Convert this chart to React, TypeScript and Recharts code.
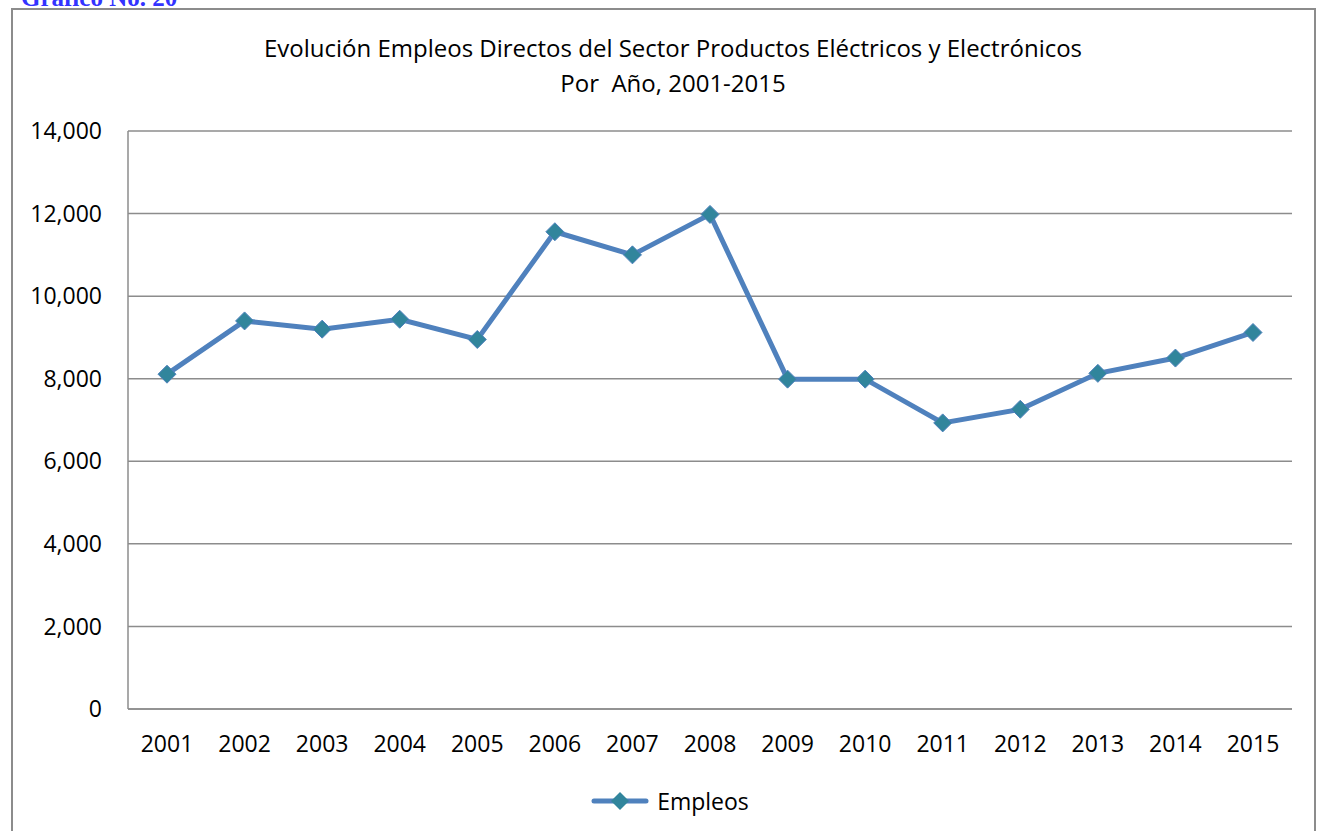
import { LineChart, Line, XAxis, YAxis, CartesianGrid, Legend } from "recharts";

const years = [
  "2001", "2002", "2003", "2004", "2005", "2006", "2007", "2008",
  "2009", "2010", "2011", "2012", "2013", "2014", "2015"
];

const empleos = [
  8110, 9400, 9200, 9440, 8950, 11560, 11000, 11980,
  7990, 7990, 6930, 7260, 8130, 8500, 9120
];

const yTicks = [0, 2000, 4000, 6000, 8000, 10000, 12000, 14000];

const data = years.map((year, i) => ({ year, empleos: empleos[i] }));

const FONT = "'Open Sans', 'Noto Sans', sans-serif";
const LINE = "#4F81BD";
const MARKER = "#31859C";

const Diamond = (props: any) => {
  const { cx, cy } = props;
  if (cx == null || cy == null) return null;
  const r = 9;
  return (
    <path
      d={`M${cx},${cy - r} L${cx + r},${cy} L${cx},${cy + r} L${cx - r},${cy} Z`}
      fill={MARKER}
      stroke={LINE}
      strokeWidth={1}
    />
  );
};

function LegendContent() {
  return (
    <div style={{ display: "flex", alignItems: "center", justifyContent: "center", fontFamily: FONT, fontSize: 23, color: "#000" }}>
      <svg width={58} height={20} style={{ marginRight: 8 }}>
        <line x1={3} y1={10} x2={55} y2={10} stroke={LINE} strokeWidth={5} strokeLinecap="round" />
        <path d="M29,1 L38,10 L29,19 L20,10 Z" fill={MARKER} />
      </svg>
      <span>Empleos</span>
    </div>
  );
}

export default function App() {
  return (
    <div style={{ position: "absolute", left: 0, top: 0, width: 1319, height: 831, overflow: "hidden", background: "#fff" }}>
      <div
        style={{
          position: "absolute", left: 21, top: -16, fontFamily: "'Liberation Serif', serif",
          fontWeight: "bold", fontSize: 25, color: "#3333ff", whiteSpace: "nowrap"
        }}
      >
        Gráfico No. 20
      </div>
      <div
        style={{
          position: "absolute", left: 11, top: 8, width: 1305, height: 840,
          border: "2px solid #8c8c8c", boxSizing: "border-box"
        }}
      />
      <div
        style={{
          position: "absolute", left: 0, top: 30, width: 1346, textAlign: "center",
          fontFamily: FONT, fontSize: 24, lineHeight: "35px", color: "#000"
        }}
      >
        Evolución Empleos Directos del Sector Productos Eléctricos y Electrónicos
        <br />
        Por&nbsp; Año, 2001-2015
      </div>
      <div style={{ position: "absolute", left: 0, top: 0 }}>
        <LineChart width={1319} height={831} data={data} margin={{ top: 131, right: 27, bottom: 0, left: 0 }}>
          <CartesianGrid vertical={false} stroke="#8c8c8c" strokeWidth={1.5} />
          <XAxis
            dataKey="year"
            height={122}
            padding={{ left: 39, right: 39 }}
            tickSize={0}
            tickMargin={27}
            axisLine={{ stroke: "#8c8c8c", strokeWidth: 1.5 }}
            tick={{ fontFamily: FONT, fontSize: 23, fill: "#000" }}
          />
          <YAxis
            width={128}
            domain={[0, 14000]}
            ticks={yTicks}
            tickSize={0}
            tickMargin={26}
            axisLine={{ stroke: "#8c8c8c", strokeWidth: 1.5 }}
            tickFormatter={(v: number) => v.toLocaleString("en-US")}
            tick={{ fontFamily: FONT, fontSize: 23, fill: "#000" }}
          />
          <Legend
            layout="horizontal"
            align="center"
            verticalAlign="middle"
            wrapperStyle={{ top: 785, left: 0, width: 1340 }}
            content={() => <LegendContent />}
          />
          <Line
            type="linear"
            dataKey="empleos"
            name="Empleos"
            stroke={LINE}
            strokeWidth={5}
            dot={<Diamond />}
            activeDot={false}
            isAnimationActive={false}
          />
        </LineChart>
      </div>
    </div>
  );
}
